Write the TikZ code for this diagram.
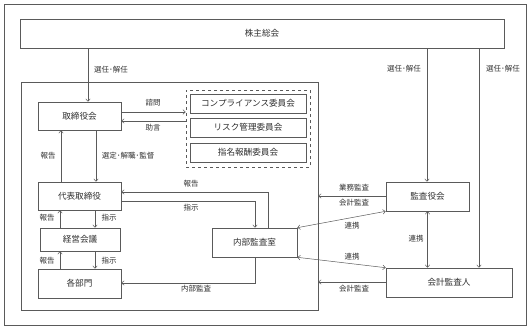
\documentclass[tikz,border=0pt]{standalone}
\usepackage{fontspec}
\setmainfont{Noto Sans CJK JP}
\usetikzlibrary{arrows.meta}
\definecolor{ln}{HTML}{5A5A5A}
\definecolor{tx}{HTML}{303030}
\tikzset{
  box/.style={draw=ln, line width=0.6pt, fill=white, inner sep=0pt, font=\fontsize{8.6}{10}\selectfont, text=tx},
  lbl/.style={inner sep=0pt, font=\fontsize{7.5}{9}\selectfont, text=tx},
  arr/.style={draw=ln, line width=0.5pt, -{Straight Barb[length=2.5pt,width=4.5pt]}},
  darr/.style={draw=ln, line width=0.5pt, {Straight Barb[length=2.5pt,width=4.5pt]}-{Straight Barb[length=2.5pt,width=4.5pt]}},
  frame/.style={draw=ln, line width=0.6pt}
}
\begin{document}
\begin{tikzpicture}[x=1pt,y=-1pt]
\useasboundingbox (0,0) rectangle (530,329);
\fill[white] (0,0) rectangle (530,329);
% outer frame
\node[frame, minimum width=522pt, minimum height=321pt, inner sep=0pt] (outer) at (265,164.5) {};
% inner company frame
\node[frame, minimum width=297pt, minimum height=228pt, inner sep=0pt] (inner) at (169.5,196) {};
% dashed committee frame
\node[draw=ln, dashed, line width=0.5pt, minimum width=124pt, minimum height=77pt, inner sep=0pt] (dash) at (248,128.5) {};
% boxes
\node[box, minimum width=484pt, minimum height=29pt] (kabu) at (262,33.5) {株主総会};
\node[box, minimum width=83pt, minimum height=28pt] (tori) at (79.5,116) {取締役会};
\node[box, minimum width=116pt, minimum height=19pt] (comp) at (248,103.5) {コンプライアンス委員会};
\node[box, minimum width=116pt, minimum height=19pt] (risk) at (248,127.5) {リスク管理委員会};
\node[box, minimum width=116pt, minimum height=19pt] (shimei) at (248,152.5) {指名報酬委員会};
\node[box, minimum width=83pt, minimum height=28pt] (daihyo) at (79.5,196) {代表取締役};
\node[box, minimum width=80pt, minimum height=23pt] (keiei) at (80,239.5) {経営会議};
\node[box, minimum width=83pt, minimum height=29pt] (kakubu) at (79.5,283.5) {各部門};
\node[box, minimum width=85pt, minimum height=29pt] (naibu) at (254.5,242.5) {内部監査室};
\node[box, minimum width=83pt, minimum height=29pt] (kansa) at (427.5,196.5) {監査役会};
\node[box, minimum width=126pt, minimum height=29pt] (kaikei) at (449,282.5) {会計監査人};
% helper coordinates
\coordinate (xa) at (88,0);
\coordinate (xb) at (61,0);
\coordinate (xc) at (96,0);
\coordinate (xd) at (60,0);
\coordinate (xe) at (95,0);
\coordinate (xf) at (255,0);
\coordinate (xg) at (268,0);
\coordinate (xh) at (427,0);
\coordinate (xi) at (479,0);
\coordinate (ya) at (0,112);
\coordinate (yb) at (0,121);
\coordinate (yc) at (0,192);
\coordinate (yd) at (0,201);
\coordinate (ye) at (0,283);
\coordinate (yf) at (0,196);
\coordinate (yg) at (0,282);
% shareholders to boards
\draw[arr] (kabu.south -| xa) -- (tori.north -| xa);
\draw[arr] (kabu.south -| xh) -- (kansa.north -| xh);
\draw[arr] (kabu.south -| xi) -- (kaikei.north -| xi);
% board <-> committees
\draw[arr] (tori.east |- ya) -- (dash.west |- ya);
\draw[arr] (dash.west |- yb) -- (tori.east |- yb);
% board <-> representative
\draw[arr] (daihyo.north -| xb) -- (tori.south -| xb);
\draw[arr] (tori.south -| xc) -- (daihyo.north -| xc);
% representative <-> management meeting
\draw[arr] (keiei.north -| xd) -- (daihyo.south -| xd);
\draw[arr] (daihyo.south -| xe) -- (keiei.north -| xe);
% management meeting <-> departments
\draw[arr] (kakubu.north -| xd) -- (keiei.south -| xd);
\draw[arr] (keiei.south -| xe) -- (kakubu.north -| xe);
% internal audit
\draw[arr] (naibu.north -| xg) |- (daihyo.east |- yc);
\draw[arr] (daihyo.east |- yd) -| (naibu.north -| xf);
\draw[arr] (naibu.south -| xf) |- (kakubu.east |- ye);
% auditors
\draw[darr] (kansa.south) -- (kaikei.north -| kansa.south);
\draw[arr] (kansa.west |- yf) -- (inner.east |- yf);
\draw[arr] (kaikei.west |- yg) -- (inner.east |- yg);
\draw[darr] (kansa.south west) -- (naibu.north east);
\draw[darr] (kaikei.north west) -- (naibu.south east);
% labels
\node[lbl] (l1) at (111,70) {選任･解任};
\node[lbl] (l2) at (404,69) {選任･解任};
\node[lbl] (l3) at (503,69) {選任･解任};
\node[lbl] (l4) at (153,103) {諮問};
\node[lbl] (l5) at (153,128) {助言};
\node[lbl] (l6) at (48,156) {報告};
\node[lbl] (l7) at (128,156) {選定･解職･監督};
\node[lbl] (l8) at (191,184) {報告};
\node[lbl] (l9) at (191,208) {指示};
\node[lbl] (l10) at (47,218) {報告};
\node[lbl] (l11) at (109,218) {指示};
\node[lbl] (l12) at (47,261) {報告};
\node[lbl] (l13) at (109,261) {指示};
\node[lbl] (l14) at (196,289) {内部監査};
\node[lbl] (l15) at (354,188) {業務監査};
\node[lbl] (l16) at (354,203) {会計監査};
\node[lbl] (l17) at (352,226) {連携};
\node[lbl] (l18) at (352,257) {連携};
\node[lbl] (l19) at (416,239) {連携};
\node[lbl] (l20) at (354,289) {会計監査};
\end{tikzpicture}
\end{document}
